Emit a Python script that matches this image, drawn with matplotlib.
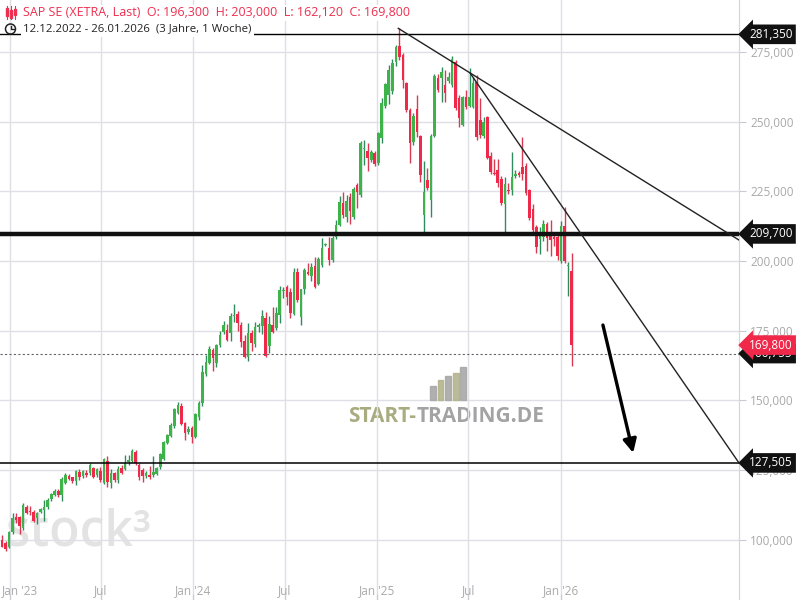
import numpy as np
import matplotlib.pyplot as plt
import matplotlib.transforms as mtransforms
from matplotlib.patches import Circle, Rectangle
from matplotlib.lines import Line2D
from datetime import date

plt.rcParams['font.family'] = ['Open Sans', 'DejaVu Sans']

# weekly candles, SAP SE (XETRA), first week 12.12.2022
start = date(2022, 12, 12)
opens = [100.8, 99.8, 98.9, 97.5, 102.8, 108.2, 108.0, 104.0, 111.8, 110.3,
         110.0, 107.6, 110.0, 110.6, 111.6, 114.4, 116.0, 117.6, 116.0, 120.4,
         122.8, 122.3, 120.9, 124.4, 122.8, 124.0, 123.8, 125.6, 123.1, 124.7,
         120.4, 128.2, 120.4, 123.8, 121.4, 125.6, 125.4, 128.0, 128.3, 131.4,
         126.8, 124.9, 122.8, 123.2, 123.2, 123.6, 125.9, 128.8, 134.8, 137.3,
         140.6, 145.5, 147.9, 141.7, 138.6, 140.0, 136.9, 144.1, 149.1, 159.3,
         163.5, 168.0, 163.5, 169.7, 174.6, 175.1, 174.0, 180.2, 181.0, 177.0,
         171.2, 165.4, 174.3, 170.2, 176.4, 176.7, 179.4, 169.5, 177.0, 175.8,
         180.6, 189.1, 190.5, 189.0, 181.0, 196.2, 179.8, 189.9, 196.0, 194.6,
         198.2, 191.7, 198.5, 205.7, 204.5, 200.3, 208.5, 212.9, 220.9, 215.9,
         223.1, 215.9, 227.3, 223.7, 240.2, 239.5, 236.2, 238.9, 235.0, 244.0,
         255.6, 259.6, 261.0, 271.5, 277.0, 273.9, 263.8, 254.2, 242.6, 254.5,
         244.9, 216.5, 229.1, 222.0, 244.8, 265.5, 265.5, 263.2, 264.7, 263.2,
         271.5, 258.4, 248.8, 258.7, 255.6, 255.4, 264.4, 250.6, 244.8, 251.8,
         237.7, 231.7, 232.7, 229.4, 220.4, 225.5, 225.5, 230.6, 231.6, 233.6,
         234.1, 225.5, 218.6, 212.3, 207.8, 208.5, 213.3, 209.9, 208.5, 208.7,
         200.1, 212.5, 198.2, 196.3]
highs = [101.8, 101.6, 99.5, 103.0, 109.4, 109.4, 108.5, 113.0, 112.3, 112.0,
         110.5, 109.8, 111.3, 114.2, 114.8, 116.8, 118.0, 118.2, 122.4, 124.0,
         123.5, 122.6, 125.1, 125.3, 125.0, 124.8, 127.5, 126.2, 125.8, 126.0,
         129.3, 130.0, 125.2, 124.2, 126.5, 126.8, 130.3, 130.3, 132.4, 132.0,
         127.4, 125.6, 124.5, 126.4, 130.0, 126.0, 131.0, 135.4, 138.0, 142.0,
         147.3, 149.4, 149.0, 142.3, 140.8, 140.8, 145.6, 149.6, 162.6, 166.2,
         169.5, 168.6, 170.2, 175.0, 178.6, 177.4, 181.2, 184.5, 181.9, 178.2,
         173.4, 177.6, 175.2, 178.2, 177.6, 182.4, 181.8, 180.4, 183.6, 183.3,
         191.0, 190.8, 191.4, 190.2, 197.3, 197.3, 190.0, 197.3, 199.1, 199.1,
         201.3, 201.3, 208.1, 206.5, 208.5, 208.8, 214.7, 223.3, 224.6, 223.7,
         224.5, 226.5, 227.9, 243.0, 243.4, 242.2, 240.0, 239.5, 246.3, 258.4,
         264.0, 270.3, 272.5, 277.5, 283.5, 274.5, 264.3, 254.8, 253.0, 259.6,
         245.2, 235.9, 233.3, 245.4, 267.0, 267.0, 269.7, 268.5, 267.9, 273.6,
         272.0, 259.6, 259.3, 261.4, 269.1, 266.1, 266.7, 258.4, 251.5, 252.2,
         239.2, 236.5, 236.5, 230.5, 230.3, 228.0, 239.2, 232.5, 232.4, 244.4,
         235.0, 226.0, 220.4, 212.8, 212.3, 214.7, 214.0, 214.7, 210.5, 210.0,
         214.5, 219.2, 199.7, 203.0]
lows = [99.2, 97.3, 96.0, 96.8, 102.0, 105.8, 101.9, 103.5, 109.0, 108.8,
        106.2, 105.6, 109.6, 106.8, 111.0, 113.8, 115.8, 115.4, 113.8, 119.8,
        121.2, 120.4, 119.4, 121.5, 122.2, 122.6, 123.0, 122.2, 122.6, 120.8,
        119.8, 119.0, 118.6, 120.8, 120.4, 123.5, 124.8, 126.8, 127.8, 126.8,
        121.2, 120.8, 122.2, 121.8, 122.6, 123.0, 125.4, 128.4, 134.4, 136.8,
        140.0, 145.0, 141.0, 135.7, 138.0, 134.8, 136.4, 142.9, 147.9, 158.8,
        163.0, 160.6, 162.1, 169.2, 173.8, 171.2, 171.2, 178.2, 174.9, 169.2,
        165.0, 164.2, 167.8, 169.2, 174.6, 173.8, 165.6, 166.8, 174.0, 175.2,
        177.8, 186.6, 184.2, 179.4, 180.6, 185.4, 177.0, 188.1, 195.0, 192.9,
        190.4, 191.4, 197.9, 205.2, 198.5, 199.7, 208.0, 212.4, 215.3, 214.1,
        213.1, 215.0, 219.1, 223.0, 234.4, 232.4, 235.5, 234.2, 234.5, 242.2,
        255.0, 256.2, 260.0, 270.1, 272.0, 262.2, 253.5, 235.0, 241.5, 244.6,
        228.2, 210.5, 225.5, 215.9, 244.5, 260.8, 257.2, 257.2, 263.8, 262.6,
        254.2, 248.0, 248.3, 254.5, 255.4, 254.9, 243.4, 244.0, 244.3, 236.5,
        231.2, 230.9, 226.5, 220.1, 209.9, 224.0, 223.5, 229.8, 230.0, 229.0,
        223.5, 214.8, 210.3, 202.7, 202.5, 207.0, 203.5, 201.8, 205.5, 200.4,
        199.4, 199.3, 187.4, 162.12]
closes = [99.6, 97.5, 96.5, 102.6, 107.9, 107.0, 104.9, 112.3, 109.7, 109.8,
          106.8, 109.4, 110.8, 111.8, 114.2, 116.2, 117.4, 116.0, 121.7, 123.2,
          121.9, 121.0, 124.6, 122.6, 124.6, 123.3, 126.7, 122.6, 125.2, 121.4,
          128.8, 120.7, 124.0, 121.4, 125.3, 124.0, 127.5, 128.6, 131.8, 127.4,
          122.4, 122.8, 124.0, 122.3, 124.4, 125.6, 130.6, 135.0, 137.5, 141.1,
          146.8, 148.3, 141.5, 138.2, 139.7, 136.9, 145.1, 149.1, 160.0, 163.6,
          168.4, 165.0, 169.7, 173.4, 177.0, 171.6, 180.4, 180.6, 177.6, 171.0,
          165.6, 174.3, 170.4, 176.4, 177.0, 180.2, 165.9, 177.4, 174.6, 181.4,
          189.6, 189.6, 187.2, 181.2, 196.2, 186.0, 189.8, 196.7, 195.3, 197.7,
          190.8, 200.6, 204.5, 205.9, 200.3, 208.3, 212.9, 221.3, 216.5, 221.6,
          218.0, 225.8, 224.9, 242.2, 240.7, 236.8, 239.2, 234.7, 245.8, 256.6,
          263.4, 268.5, 270.9, 276.7, 273.3, 264.9, 254.1, 242.5, 252.1, 246.4,
          230.9, 224.6, 226.1, 244.8, 266.4, 261.4, 267.9, 260.4, 266.1, 272.4,
          254.8, 251.2, 258.7, 255.4, 258.7, 264.0, 244.6, 245.2, 250.0, 236.8,
          232.1, 231.2, 227.9, 220.7, 227.6, 225.0, 230.3, 230.9, 230.8, 231.2,
          224.3, 215.5, 211.0, 204.9, 209.0, 213.3, 208.1, 207.5, 207.8, 201.8,
          212.5, 200.1, 198.7, 169.8]

# drawn levels and lines (week index, price)
level_top = 281.350
level_main = 209.700
level_target = 127.505
level_dotted = 166.755
trend_a = [(113.7, 283.5), (210.6, 207.5)]
trend_b = [(134.1, 267.5), (210.6, 127.5)]
arrow_start = (171.9, 177.0)
arrow_end = (180.5, 131.1)

tick_dates = [date(2023, 1, 1), date(2023, 7, 1), date(2024, 1, 1), date(2024, 7, 1),
              date(2025, 1, 1), date(2025, 7, 1), date(2026, 1, 1)]
tick_labels = ["Jan '23", "Jul", "Jan '24", "Jul", "Jan '25", "Jul", "Jan '26"]
y_ticks = [100, 125, 150, 175, 200, 225, 250, 275]

green = '#3db34a'
green_wick = '#2f8a5e'
red = '#f0284a'
red_wick = '#d93a52'
grid_col = '#dfe0e6'


def fmt(v):
    return f"{v:.3f}".replace('.', ',')


fig = plt.figure(figsize=(8, 6), dpi=100)
ax = fig.add_axes([0, 0, 739 / 800, 1])
ax.set_xlim(0.43, 210.6)
ax.set_ylim(78.3, 293.67)

tick_x = [(d - start).days / 7 + 0.43 for d in tick_dates]
ax.set_xticks(tick_x)
ax.set_xticklabels([])
ax.set_yticks(y_ticks)
ax.set_yticklabels([fmt(v) for v in y_ticks])
ax.yaxis.tick_right()
ax.tick_params(axis='y', direction='out', length=5, color='#c9cad2', labelcolor='#a9a9a9',
               labelsize=8.5, pad=3)
ax.tick_params(axis='x', direction='in', length=4, color='#c9cad2')
ax.grid(True, color=grid_col, lw=1, zorder=0)
ax.set_axisbelow(True)
for s in ['top', 'left', 'bottom']:
    ax.spines[s].set_visible(False)
ax.spines['right'].set_color('#d3d4da')

xb = mtransforms.blended_transform_factory(ax.transData, ax.transAxes)
for k, (xt, lab) in enumerate(zip(tick_x, tick_labels)):
    if k == 0:
        # first label is kept inside the left edge
        ax.text(2 / 739, 9 / 600, lab, transform=ax.transAxes, ha='left', va='center',
                fontsize=8.5, color='#a9a9a9')
    else:
        ax.text(xt, 9 / 600, lab, transform=xb, ha='center', va='center',
                fontsize=8.5, color='#a9a9a9')

# watermarks
ax.text(6 / 739, 1 - 532 / 600, 'stock³', transform=ax.transAxes, fontsize=36,
        fontweight='semibold', color='#e3e3e3', ha='left', va='center', zorder=0.5)
ax.text(348 / 739, 1 - 417 / 600, 'START-', transform=ax.transAxes, fontsize=15,
        fontweight='bold', color='#a9ac80', ha='left', va='center', zorder=0.5)
ax.text(417 / 739, 1 - 417 / 600, 'TRADING.DE', transform=ax.transAxes, fontsize=15,
        fontweight='bold', color='#a3a3a3', ha='left', va='center', zorder=0.5)
logo_h = [14, 20, 24, 27, 33]
for k, hh in enumerate(logo_h):
    fig.patches.append(Rectangle(((430 + k * 7.5) / 800, (600 - 400) / 600), 6 / 800, hh / 600,
                                 transform=fig.transFigure, color='#b4b48c' if k % 2 else '#a8a8a8',
                                 alpha=0.9, zorder=0.5))

# candles
x = np.arange(len(closes))
o = np.array(opens)
c = np.array(closes)
h = np.array(highs)
l = np.array(lows)
up = c >= o
ax.vlines(x[up], l[up], h[up], color=green_wick, lw=1, zorder=2)
ax.vlines(x[~up], l[~up], h[~up], color=red_wick, lw=1, zorder=2)
body_h = np.maximum(np.abs(c - o), 0.45)
ax.bar(x[up], body_h[up], bottom=np.minimum(o, c)[up], width=0.74, color=green, zorder=3)
ax.bar(x[~up], body_h[~up], bottom=np.minimum(o, c)[~up], width=0.74, color=red, zorder=3)

# levels and trend lines
ax.axhline(level_top, color='black', lw=1, zorder=4)
ax.axhline(level_main, color='#111111', lw=3.2, zorder=4)
ax.axhline(level_target, color='black', lw=1.1, zorder=4)
ax.axhline(level_dotted, color='#666666', lw=0.8, ls=(0, (2, 2)), zorder=4)
ax.plot([p[0] for p in trend_a], [p[1] for p in trend_a], color='#222222', lw=1, zorder=4)
ax.plot([p[0] for p in trend_b], [p[1] for p in trend_b], color='#222222', lw=1, zorder=4)
ax.annotate('', xy=arrow_end, xytext=arrow_start,
            arrowprops=dict(arrowstyle='-|>', lw=2.4, color='black', mutation_scale=20,
                            shrinkA=0, shrinkB=0), zorder=5)

# right side price tags
tag_tr = mtransforms.blended_transform_factory(fig.transFigure, ax.transData)
for v, col in [(level_top, '#111111'), (level_main, '#111111'), (level_target, '#111111'),
               (level_dotted, '#111111'), (closes[-1], '#f0284a')]:
    fig.text(749 / 800, v, fmt(v), transform=tag_tr, ha='left', va='center', fontsize=8.5,
             color='white', bbox=dict(boxstyle='larrow,pad=0.28', fc=col, ec='none'))

# header
fig.text(23 / 800, 1 - 13 / 600,
         f"SAP SE (XETRA, Last)  O: {fmt(opens[-1])}  H: {fmt(highs[-1])}  L: {fmt(lows[-1])}  C: {fmt(closes[-1])}",
         color='#ee2f4f', fontsize=9, ha='left', va='center',
         bbox=dict(boxstyle='square,pad=0.15', fc='white', ec='none'))
fig.text(23 / 800, 1 - 29 / 600, "12.12.2022 - 26.01.2026  (3 Jahre, 1 Woche)",
         color='#222222', fontsize=8.2, ha='left', va='center',
         bbox=dict(boxstyle='square,pad=0.2', fc='white', ec='none'))
# small icons
for k, (yb, yt) in enumerate([(8, 16), (10, 18), (9, 15)]):
    fig.add_artist(Line2D([(7 + k * 4) / 800] * 2, [1 - 19 / 600, 1 - 6 / 600],
                          transform=fig.transFigure, color='#ee2f4f', lw=0.8))
    fig.patches.append(Rectangle(((6 + k * 4) / 800, 1 - yt / 600), 2.4 / 800, (yt - yb) / 600,
                                 transform=fig.transFigure, color='#ee2f4f'))
fig.patches.append(Circle((10.5 / 100, (600 - 29) / 100), 0.05, transform=fig.dpi_scale_trans,
                          fill=False, ec='#222222', lw=1.1))
fig.add_artist(Line2D([10.5 / 800, 10.5 / 800, 13.5 / 800], [1 - 25.5 / 600, 1 - 29 / 600, 1 - 29 / 600],
                      transform=fig.transFigure, color='#222222', lw=1))

fig.savefig('out.png', dpi=100)
